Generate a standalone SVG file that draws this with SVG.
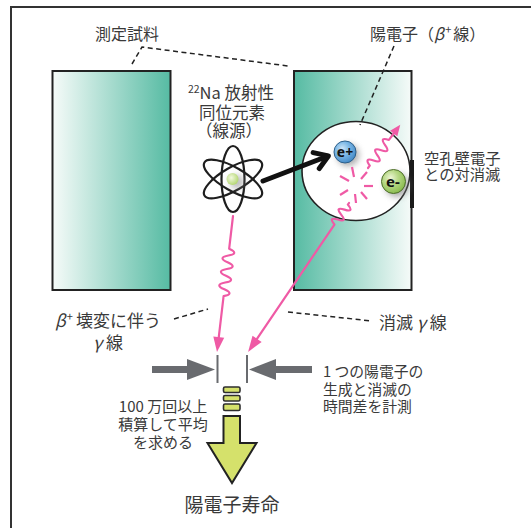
<svg xmlns="http://www.w3.org/2000/svg" width="531" height="528" viewBox="0 0 531 528">
  <defs>
    <linearGradient id="sampleL" x1="0" y1="0" x2="1" y2="0">
      <stop offset="0" stop-color="#f6fbf9"/>
      <stop offset="1" stop-color="#56bba3"/>
    </linearGradient>
    <linearGradient id="sampleR" x1="0" y1="0" x2="1" y2="0">
      <stop offset="0" stop-color="#56bba3"/>
      <stop offset="1" stop-color="#f6fbf9"/>
    </linearGradient>
    <radialGradient id="blueBall" cx="0.38" cy="0.35" r="0.7">
      <stop offset="0" stop-color="#cfe6f7"/>
      <stop offset="0.45" stop-color="#7db8e6"/>
      <stop offset="1" stop-color="#3f86c4"/>
    </radialGradient>
    <radialGradient id="greenBall" cx="0.38" cy="0.35" r="0.7">
      <stop offset="0" stop-color="#eef6d6"/>
      <stop offset="0.45" stop-color="#b7d886"/>
      <stop offset="1" stop-color="#86b94a"/>
    </radialGradient>
    <radialGradient id="nucleus" cx="0.4" cy="0.4" r="0.65">
      <stop offset="0" stop-color="#f3f9e0"/>
      <stop offset="1" stop-color="#b2d66e"/>
    </radialGradient>
    <filter id="soft" x="-50%" y="-50%" width="200%" height="200%">
      <feGaussianBlur stdDeviation="3"/>
    </filter>
  </defs>
  <style>
    .lbl { font-family: "Noto Sans CJK JP", "Noto Sans", sans-serif; fill: #3a3a3a; }
    .dash { fill: none; stroke: #222; stroke-width: 1.5; stroke-dasharray: 5 3.5; }
    .gamma { fill: none; stroke: #ef5aa5; stroke-width: 2.2; stroke-linecap: round; stroke-linejoin: round; }
    .spark { stroke: #ef5aa5; stroke-width: 2.2; stroke-linecap: butt; }
    .gauge { fill: #696b6f; }
    .tick { stroke: #696b6f; stroke-width: 2; }
    .bar { fill: #d5e16b; stroke: #2e2e2e; stroke-width: 1.6; }
  </style>

  <!-- outer frame -->
  <path d="M11,528 L11,7 L531,7" fill="none" stroke="#333" stroke-width="2"/>

  <!-- sample blocks -->
  <g id="sample-left">
    <rect x="52.5" y="71" width="118" height="219" fill="url(#sampleL)" stroke="#222" stroke-width="2"/>
  </g>
  <g id="sample-right">
    <rect x="294" y="71" width="117.5" height="219" fill="url(#sampleR)" stroke="#222" stroke-width="2"/>
  </g>

  <!-- vacancy region with positron and electron -->
  <g id="vacancy">
    <ellipse cx="356" cy="171" rx="54" ry="49.5" fill="#fff" stroke="#222" stroke-width="1.6"/>
    <line x1="412" y1="160" x2="412" y2="208" stroke="#1a1a1a" stroke-width="4"/>
  </g>

  <g id="positron">
    <circle cx="348" cy="155" r="11" fill="#777" opacity="0.6" filter="url(#soft)"/>
    <circle cx="345" cy="152" r="11" fill="url(#blueBall)" stroke="#2c5f8a" stroke-width="1"/>
    <text x="345" y="157" text-anchor="middle" font-family="Noto Sans, sans-serif" font-weight="bold" font-size="14" fill="#111">e+</text>
  </g>

  <g id="electron">
    <circle cx="397" cy="185" r="12" fill="#777" opacity="0.6" filter="url(#soft)"/>
    <circle cx="393.5" cy="181.5" r="12" fill="url(#greenBall)" stroke="#4d6d2a" stroke-width="1"/>
    <text x="393" y="187" text-anchor="middle" font-family="Noto Sans, sans-serif" font-weight="bold" font-size="15" fill="#111">e-</text>
  </g>

  <!-- 22Na source drawn as an atom -->
  <g id="source">
    <g fill="none" stroke="#1e1e1e" stroke-width="2.2">
      <ellipse cx="233" cy="179" rx="33" ry="11.5" transform="rotate(90 233 179)"/>
      <ellipse cx="233" cy="179" rx="33" ry="11.5" transform="rotate(30 233 179)"/>
      <ellipse cx="233" cy="179" rx="33" ry="11.5" transform="rotate(150 233 179)"/>
    </g>
    <circle cx="237" cy="182" r="7" fill="#888" opacity="0.55" filter="url(#soft)"/>
    <circle cx="232.5" cy="179" r="6" fill="url(#nucleus)"/>
  </g>

  <!-- connectors -->
  <g id="connectors">
    <!-- positron emission -->
    <g transform="translate(263,181) rotate(-21)" fill="none" stroke="#111" stroke-width="5" stroke-linecap="round" stroke-linejoin="round">
      <line x1="0" y1="0" x2="69" y2="0"/>
      <polyline points="57,-8.5 70,0 57,8.5"/>
    </g>

    <!-- gamma ray from beta+ decay -->
    <g transform="translate(233,216) rotate(96.7)">
      <path class="gamma" d="M0,0 L33,0 q3.4,-11 6.8,0 t6.8,0 t6.8,0 t6.8,0 t6.8,0 t6.8,0 t6.8,0 L124,0"/>
      <path d="M122,-5.5 L137,0 L122,5.5 z" fill="#ef5aa5"/>
    </g>

    <!-- annihilation gamma, lower branch -->
    <g transform="translate(349,203) rotate(124.1)">
      <path class="gamma" d="M0,0 L2,0 q3,-10 6,0 t6,0 t6,0 t6,0 L166,0"/>
      <path d="M164,-5.5 L180,0 L164,5.5 z" fill="#ef5aa5"/>
    </g>

    <!-- annihilation gamma, upper branch -->
    <g transform="translate(368,168) rotate(-53.3)">
      <path class="gamma" d="M0,0 L3,0 q3.2,-10 6.4,0 t6.4,0 t6.4,0 t6.4,0 t6.4,0 L44,0"/>
      <path d="M43,-4.5 L54,0 L43,4.5 z" fill="#ef5aa5"/>
    </g>

    <!-- annihilation flash -->
    <g id="flash">
      <line class="spark" x1="349" y1="181" x2="340" y2="176"/>
      <line class="spark" x1="354" y1="177" x2="352" y2="167"/>
      <line class="spark" x1="361" y1="179" x2="367" y2="172"/>
      <line class="spark" x1="364" y1="186" x2="373" y2="186"/>
      <line class="spark" x1="361" y1="192" x2="367" y2="199"/>
      <line class="spark" x1="355" y1="194" x2="356" y2="203"/>
      <line class="spark" x1="348" y1="190" x2="340" y2="195"/>
    </g>

    <!-- leader lines -->
    <path class="dash" d="M132,64 L142,47 L288,66"/>
    <path class="dash" d="M394,46 L360,125"/>
    <path class="dash" d="M174,319 L208,309"/>
    <path class="dash" d="M288,312 L372,321"/>

    <!-- timing gauge -->
    <rect class="gauge" x="152" y="366" width="38" height="7"/>
    <path class="gauge" d="M187,359 L215,369.5 L187,380 z"/>
    <line class="tick" x1="217.5" y1="355" x2="217.5" y2="383"/>
    <rect class="gauge" x="273" y="366" width="39" height="7"/>
    <path class="gauge" d="M276,359 L249,369.5 L276,380 z"/>
    <line class="tick" x1="247" y1="355" x2="247" y2="383"/>

    <!-- accumulation and result arrow -->
    <rect class="bar" x="223.5" y="387" width="16.5" height="5.5" rx="1.5"/>
    <rect class="bar" x="223.5" y="395.5" width="16.5" height="5.5" rx="1.5"/>
    <rect class="bar" x="223.5" y="404" width="16.5" height="6.5" rx="1.5"/>
    <path d="M223.5,416 L240,416 L240,443 L256.5,443 L232,483 L207.5,443 L223.5,443 z" fill="#d5e16b" stroke="#222" stroke-width="2" stroke-linejoin="miter"/>
  </g>

  <!-- labels -->
  <g id="labels" class="lbl">
    <text x="127" y="40" font-size="16" text-anchor="middle">測定試料</text>
    <text x="370" y="40" font-size="16">陽電子（<tspan font-style="italic">β</tspan><tspan font-size="11" dx="1" dy="-6">+</tspan><tspan dx="2" dy="6">線）</tspan></text>
    <text x="231" y="99" font-size="16.5" text-anchor="middle"><tspan font-size="10.5" dy="-6">22</tspan><tspan dy="6">Na 放射性</tspan></text>
    <text x="232" y="119" font-size="16.5" text-anchor="middle">同位元素</text>
    <text x="229" y="137" font-size="16.5" text-anchor="middle">（線源）</text>
    <text x="424" y="164" font-size="15.3">空孔壁電子</text>
    <text x="424" y="180" font-size="15.3">との対消滅</text>
    <text x="108" y="327" font-size="17" text-anchor="middle"><tspan font-style="italic">β</tspan><tspan font-size="11" dx="1" dy="-6">+</tspan><tspan dx="3" dy="6">壊変に伴う</tspan></text>
    <text x="108" y="349" font-size="17" text-anchor="middle"><tspan font-style="italic">γ</tspan> 線</text>
    <text x="379" y="329" font-size="17">消滅 <tspan font-style="italic">γ</tspan> 線</text>
    <text x="323" y="377" font-size="14.8">1 つの陽電子の</text>
    <text x="323" y="395" font-size="14.8">生成と消滅の</text>
    <text x="323" y="412" font-size="14.8">時間差を計測</text>
    <text x="163" y="412" font-size="15" text-anchor="middle">100 万回以上</text>
    <text x="163" y="430" font-size="15" text-anchor="middle">積算して平均</text>
    <text x="163" y="448" font-size="15" text-anchor="middle">を求める</text>
    <text x="232" y="512" font-size="19" text-anchor="middle">陽電子寿命</text>
  </g>
</svg>
